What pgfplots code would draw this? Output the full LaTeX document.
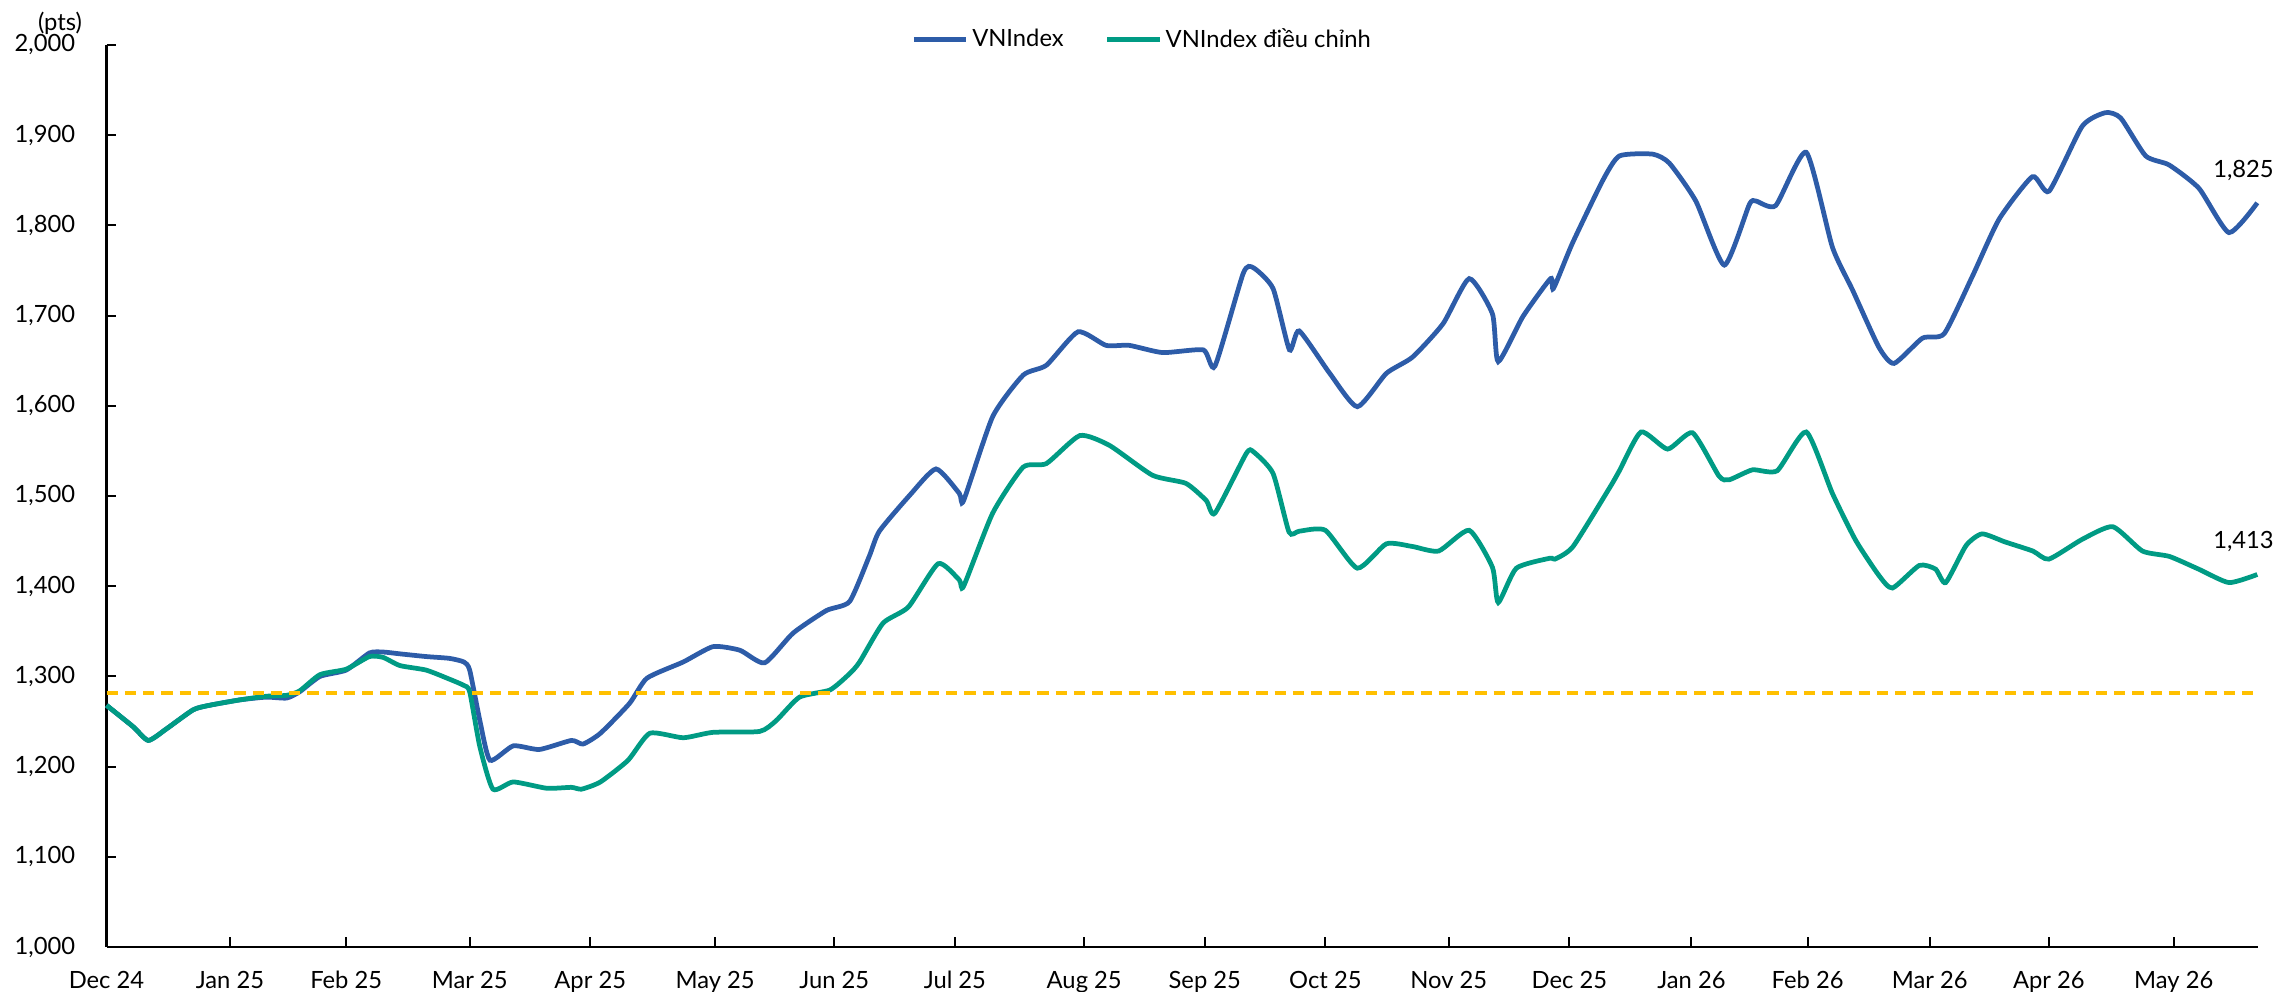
\documentclass[border=0pt]{standalone}
\usepackage{fontspec}
\setmainfont{Lato}
\usepackage{pgfplots}
\pgfplotsset{compat=1.18}
\definecolor{vnblue}{RGB}{45,92,168}
\definecolor{vngreen}{RGB}{0,155,132}
\definecolor{refline}{RGB}{255,192,0}
\begin{document}
\begin{tikzpicture}[font=\fontsize{9.5}{11}\selectfont]
\useasboundingbox (-42.6pt,-17.6pt) rectangle (869pt,378.8pt);
\begin{axis}[
  at={(0,0)}, anchor=south west,
  scale only axis, width=860.6pt, height=360.8pt,
  xmin=0, xmax=1481, ymin=1000, ymax=2000,
  clip=false,
  axis x line*=bottom, axis y line*=left,
  axis line style={black, line width=1pt, -},
  tick align=inside, major tick length=4pt,
  tick style={black, line width=0.8pt},
  ytick={1000,1100,...,2000},
  xtick={0,85,165,250,333,419,501,584,673,756,839,924,1007,1091,1171,1255,1337,1423},
  xticklabels={Dec 24,Jan 25,Feb 25,Mar 25,Apr 25,May 25,Jun 25,Jul 25,Aug 25,Sep 25,Oct 25,Nov 25,Dec 25,Jan 26,Feb 26,Mar 26,Apr 26,May 26},
  xticklabel style={yshift=-6pt},
  yticklabel style={xshift=-9pt},
  /pgf/number format/1000 sep={,},
  /pgf/number format/assume math mode=true,
  legend columns=2,
  legend style={at={(0.4818,1.006)}, anchor=center, draw=none, fill=none,
    /tikz/every even column/.append style={column sep=15pt},
    nodes={inner sep=1.5pt}},
  legend image code/.code={\draw[#1, line width=1.8pt] (0pt,0pt) -- (21pt,0pt);},
]
\addplot[vnblue, line width=1.9pt, smooth, tension=0.35] coordinates {
(0,1268) (18.5,1244) (28.8,1229) (41.4,1242) (59.7,1263) (71,1268) (91.9,1274) (110,1277) (124,1276) (133,1283) (147,1300) (165,1307) (181,1326) (190.5,1327) (202,1325) (220,1322) (236,1320) (246,1316) (250,1307) (257,1251) (264,1207) (280,1223) (298,1219) (320,1229) (328,1225) (340,1237) (360,1270) (372,1298) (397,1316) (417.5,1333) (436,1329) (453,1315) (472.6,1348) (495.5,1373) (511.5,1383) (525,1433) (532,1461) (553,1501) (571,1530) (587,1503) (590,1495) (610,1588) (631,1634) (647,1645) (668.7,1682) (688,1667) (704,1667) (727,1659) (755,1662) (763,1644) (782.5,1747) (789.5,1753) (803,1730) (814.3,1662) (821,1683) (842,1636) (861,1599) (881,1636) (899,1654) (920,1691) (938,1741) (954,1702) (958,1649) (975,1699) (994,1741) (996,1730) (1009,1780) (1030,1850) (1041.4,1877) (1064.3,1879) (1075.8,1869) (1094,1827) (1113.6,1756) (1130.8,1823) (1135.4,1827) (1149,1822) (1170,1881) (1188,1776) (1202,1728) (1220,1665) (1230.5,1647) (1250,1675) (1265,1680) (1284.5,1744) (1302.8,1807) (1325.7,1854) (1337.2,1838) (1360,1910) (1376,1925) (1386.5,1919) (1403.7,1877) (1419.8,1867) (1440.4,1841) (1461,1792) (1480.5,1825)
};
\addlegendentry{VNIndex}
\addplot[vngreen, line width=1.9pt, smooth, tension=0.35] coordinates {
(0,1268) (18.5,1244) (28.8,1229) (41.4,1242) (59.7,1263) (71,1268) (91.9,1274) (110,1278) (124,1279) (133,1284) (147,1302) (165,1308) (181,1322) (190.5,1321) (202,1312) (220,1307) (236,1297) (246,1290) (250,1283) (257,1222) (266,1175) (280,1183) (303,1176) (320,1177) (327,1175) (340,1183) (359,1207) (374,1237) (397,1232) (417.5,1238) (449.6,1239) (461,1251) (477,1277) (498,1285) (511.5,1303) (518.4,1316) (534.5,1359) (552,1377) (572.5,1425) (587,1407) (590,1400) (610,1481) (631,1532) (647,1536) (670,1567) (690.5,1556) (720,1523) (743,1514) (757,1495) (763,1481) (784.5,1547) (789.5,1549) (803,1525) (814,1460) (821,1461) (839,1462) (861,1420) (881,1447) (899,1444) (917,1439) (938,1462) (954,1421) (958,1382) (970.5,1420) (993.5,1431) (997,1430) (1009.5,1444) (1035,1510) (1041.4,1528) (1056.3,1571) (1074.6,1552) (1091.8,1570) (1110,1522) (1117,1518) (1133,1529) (1150,1528) (1170,1571) (1188,1503) (1204,1451) (1220,1412) (1229.4,1398) (1247.8,1423) (1259,1419) (1266,1404) (1280,1445) (1291,1458) (1307,1449) (1326,1439) (1337,1430) (1360,1452) (1381,1466) (1401.4,1439) (1420,1433) (1440,1419) (1461,1404) (1480.5,1413)
};
\addlegendentry{VNIndex điều chỉnh}
\addplot[refline, line width=1.6pt, dash pattern=on 4.5pt off 2.8pt, forget plot] coordinates {(0,1282) (1481,1282)};
\node at (axis cs:1471,1861) {1,825};
\node at (axis cs:1471,1450) {1,413};
\node at (axis description cs:-0.0216,1.0244) {(pts)};
\end{axis}
\end{tikzpicture}
\end{document}
